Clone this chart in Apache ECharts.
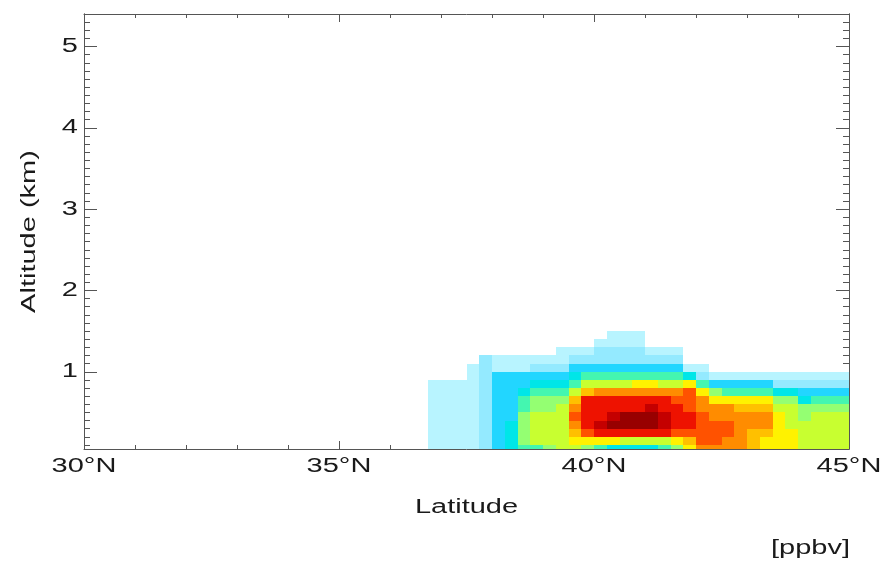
<!DOCTYPE html>
<html>
<head>
<meta charset="utf-8">
<script src="https://cdn.jsdelivr.net/npm/echarts@6/dist/echarts.min.js"></script>
<style>
html,body{margin:0;padding:0;background:#fff;}
#chart{width:885px;height:563px;}
</style>
</head>
<body>
<div id="chart"></div>
<script>
// Latitude of the left edge of each data column (deg N)
const lats = [36.75, 37.0, 37.25, 37.5, 37.75, 38.0, 38.25, 38.5, 38.75, 39.0, 39.25,
  39.5, 39.75, 40.0, 40.25, 40.5, 40.75, 41.0, 41.25, 41.5, 41.75, 42.0, 42.25,
  42.5, 42.75, 43.0, 43.25, 43.5, 43.75, 44.0, 44.25, 44.5, 44.75];
// Altitude of the bottom edge of each data row (km)
const alts = [0.0, 0.1, 0.2, 0.3, 0.4, 0.5, 0.6, 0.7, 0.8, 0.9, 1.0, 1.1, 1.2, 1.3, 1.4];
const latStep = 0.25;
const altStep = 0.1;
// Concentration level per column (one array per latitude column, bottom row first); 0 = no data
const c00 = [1,1,1,1,1,1,1,1,1,0,0,0,0,0,0];
const c01 = [1,1,1,1,1,1,1,1,1,0,0,0,0,0,0];
const c02 = [1,1,1,1,1,1,1,1,1,0,0,0,0,0,0];
const c03 = [1,1,1,1,1,1,1,1,1,1,1,0,0,0,0];
const c04 = [2,2,2,2,2,2,2,2,2,2,2,2,0,0,0];
const c05 = [3,3,3,3,3,3,3,3,3,3,1,1,0,0,0];
const c06 = [4,4,4,4,3,3,3,3,3,3,1,1,0,0,0];
const c07 = [5,6,6,6,6,5,5,4,3,3,1,1,0,0,0];
const c08 = [5,7,7,7,7,6,6,5,4,3,2,1,0,0,0];
const c09 = [6,7,7,7,7,6,6,5,4,3,2,1,0,0,0];
const c10 = [7,7,7,7,7,7,6,5,4,3,2,1,1,0,0];
const c11 = [7,8,9,10,11,10,9,7,5,4,3,2,1,0,0];
const c12 = [6,8,11,12,12,12,12,9,7,5,3,2,1,0,0];
const c13 = [5,8,12,13,12,12,12,10,7,5,3,2,2,1,0];
const c14 = [4,8,12,14,13,12,12,10,7,5,3,2,2,1,1];
const c15 = [4,7,12,14,14,12,12,10,7,5,3,2,2,1,1];
const c16 = [4,7,12,14,14,12,12,10,8,5,3,2,2,1,1];
const c17 = [4,7,12,14,14,13,12,10,8,5,3,2,1,0,0];
const c18 = [5,7,12,13,13,12,12,10,7,5,3,2,1,0,0];
const c19 = [6,8,11,12,12,12,11,10,7,5,3,2,1,0,0];
const c20 = [8,9,11,12,12,11,11,11,8,4,1,0,0,0,0];
const c21 = [10,11,11,11,11,10,10,8,5,2,1,0,0,0,0];
const c22 = [10,11,11,11,10,10,8,6,3,1,0,0,0,0,0];
const c23 = [10,10,11,11,10,10,8,5,3,1,0,0,0,0,0];
const c24 = [10,10,10,10,10,9,8,5,3,1,0,0,0,0,0];
const c25 = [9,9,9,10,10,9,8,5,3,1,0,0,0,0,0];
const c26 = [8,8,9,10,10,9,8,5,3,1,0,0,0,0,0];
const c27 = [8,8,8,8,8,7,6,4,2,1,0,0,0,0,0];
const c28 = [8,8,8,7,7,7,6,4,2,1,0,0,0,0,0];
const c29 = [7,7,7,7,6,6,4,3,2,1,0,0,0,0,0];
const c30 = [7,7,7,7,7,6,5,3,2,1,0,0,0,0,0];
const c31 = [7,7,7,7,7,6,5,3,2,1,0,0,0,0,0];
const c32 = [7,7,7,7,7,6,5,3,2,1,0,0,0,0,0];
const columns = [c00,c01,c02,c03,c04,c05,c06,c07,c08,c09,c10,c11,c12,c13,c14,c15,c16,
  c17,c18,c19,c20,c21,c22,c23,c24,c25,c26,c27,c28,c29,c30,c31,c32];
// Axis tick labels
const xTicks = [30, 35, 40, 45];
const yTicks = [1, 2, 3, 4, 5];
const levelColors = ['#b8f4ff','#94eaff','#22d6ff','#00e6e8','#44f6b0','#94ff72','#c8ff30',
  '#fff200','#ffc000','#ff8c00','#ff5200','#ee1200','#c40000','#980000'];

const data = [];
columns.forEach(function (col, ci) {
  col.forEach(function (v, ri) {
    if (v > 0) data.push([lats[ci], alts[ri], v]);
  });
});
const yMinor = [];
for (let k = 1; k <= 54; k++) {
  if (k % 10 !== 0) yMinor.push(+(k * 0.1).toFixed(1));
}

const FONT = '20px "Liberation Sans", Arial, sans-serif';
const TXT = '#1a1a1a';
const LINE = '#555555';
const WIDE = 1.45; // glyphs in the reference are drawn wider than normal

const chart = echarts.init(document.getElementById('chart'), null, {renderer: 'canvas'});
const baseX = {
  type: 'value', min: 30, max: 45, interval: 5,
  axisLine: {show: true, onZero: false, lineStyle: {color: LINE, width: 1}},
  axisTick: {show: true, inside: true, length: 8, lineStyle: {color: LINE}},
  minorTick: {show: true, splitNumber: 5, length: 4, lineStyle: {color: LINE}},
  axisLabel: {show: false},
  splitLine: {show: false}
};
function yAxisDef(pos, vals, len) {
  return {
    type: 'value', min: 0.05, max: 5.4, position: pos,
    axisLine: {show: true, onZero: false, lineStyle: {color: LINE, width: 1}},
    axisTick: {show: true, inside: true, length: len, customValues: vals, lineStyle: {color: LINE}},
    axisLabel: {show: false},
    splitLine: {show: false}
  };
}

chart.setOption({
  animation: false,
  backgroundColor: '#ffffff',
  grid: {left: 84, top: 14, right: 36, bottom: 114, containLabel: false},
  xAxis: [
    Object.assign({}, baseX, {position: 'bottom'}),
    Object.assign({}, baseX, {position: 'top'})
  ],
  yAxis: [
    yAxisDef('left', yTicks, 13),
    yAxisDef('left', yMinor, 6),
    yAxisDef('right', yTicks, 13),
    yAxisDef('right', yMinor, 6)
  ],
  visualMap: {
    type: 'continuous', show: false, min: 1, max: 14, dimension: 2, seriesIndex: 0,
    inRange: {color: levelColors}
  },
  series: [{
    type: 'custom',
    xAxisIndex: 0, yAxisIndex: 0,
    clip: true,
    data: data,
    encode: {x: 0, y: 1},
    renderItem: function (params, api) {
      const lat = api.value(0), alt = api.value(1);
      const p0 = api.coord([lat, alt]);
      const p1 = api.coord([lat + latStep, alt + altStep]);
      const x0 = Math.round(p0[0]), x1 = Math.round(p1[0]);
      const yb = Math.round(p0[1]), yt = Math.round(p1[1]);
      const cs = params.coordSys;
      const shape = echarts.graphic.clipRectByRect(
        {x: x0, y: yt, width: x1 - x0, height: yb - yt},
        {x: cs.x, y: cs.y, width: cs.width, height: cs.height});
      if (!shape) return null;
      return {type: 'rect', shape: shape, style: {fill: api.visual('color')}};
    }
  }]
});

// Axis labels and titles as wide text, placed through the axes' own scales
function label(text, x, y, align, vAlign, rot) {
  return {
    type: 'text', x: x, y: y, rotation: rot || 0, scaleX: WIDE, silent: true,
    style: {text: text, font: FONT, fill: TXT, align: align, verticalAlign: vAlign}
  };
}
const texts = [];
xTicks.forEach(function (v) {
  texts.push(label(v + '°N', chart.convertToPixel({xAxisIndex: 0}, v), 466, 'center', 'middle'));
});
yTicks.forEach(function (v) {
  texts.push(label(String(v), 78, chart.convertToPixel({yAxisIndex: 0}, v), 'right', 'middle'));
});
const xMid = chart.convertToPixel({xAxisIndex: 0}, 37.5);
const yMid = chart.convertToPixel({yAxisIndex: 0}, 2.725);
texts.push(label('Latitude', xMid, 507, 'center', 'middle'));
texts.push(label('Altitude (km)', 29, yMid, 'center', 'middle', Math.PI / 2));
texts.push(label('[ppbv]', 850, 548, 'right', 'middle'));
chart.setOption({graphic: texts});
</script>
</body>
</html>
